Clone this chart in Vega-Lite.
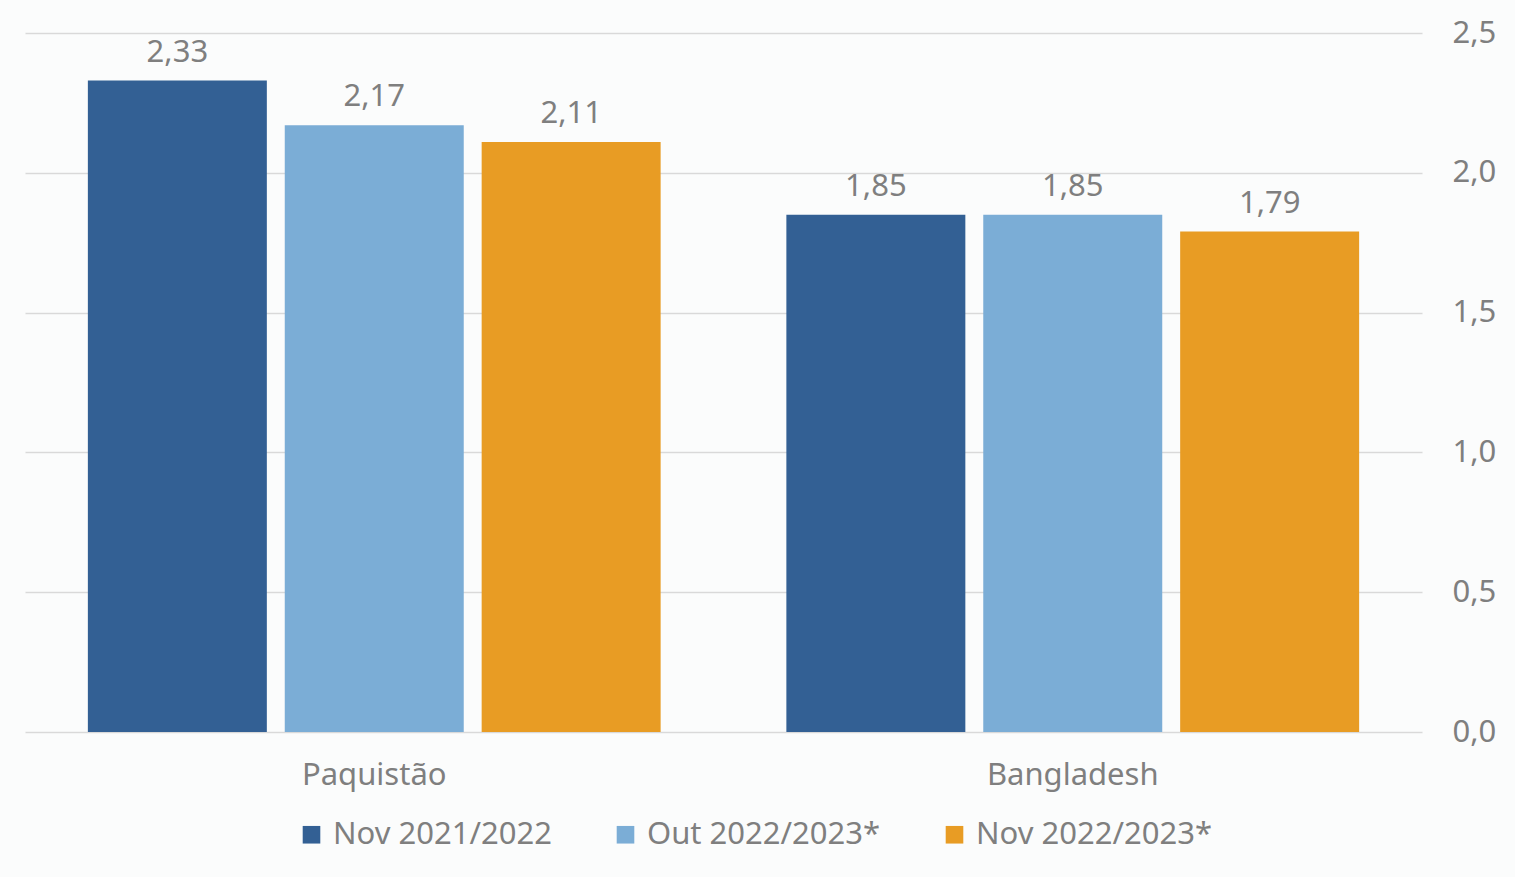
{
  "$schema": "https://vega.github.io/schema/vega-lite/v6.json",
  "autosize": "none",
  "width": 1397,
  "height": 699,
  "padding": {"left": 25, "top": 33, "right": 93, "bottom": 145},
  "background": "#fbfcfc",
  "config": {
    "locale": {"number": {"decimal": ",", "thousands": ".", "grouping": [3], "currency": ["R$", ""]}},
    "font": "Noto Sans",
    "view": {"stroke": null},
    "axis": {"labelColor": "#7f7f7f", "labelFontSize": 31, "labelFont": "Noto Sans"},
    "legend": {"labelColor": "#7f7f7f", "labelFontSize": 31, "labelLimit": 0}
  },
  "data": {
    "values": [
      {"pais": "Paquistão", "safra": "Nov 2021/2022", "valor": 2.33},
      {"pais": "Paquistão", "safra": "Out 2022/2023*", "valor": 2.17},
      {"pais": "Paquistão", "safra": "Nov 2022/2023*", "valor": 2.11},
      {"pais": "Bangladesh", "safra": "Nov 2021/2022", "valor": 1.85},
      {"pais": "Bangladesh", "safra": "Out 2022/2023*", "valor": 1.85},
      {"pais": "Bangladesh", "safra": "Nov 2022/2023*", "valor": 1.79}
    ]
  },
  "encoding": {
    "x": {
      "field": "pais",
      "type": "nominal",
      "sort": ["Paquistão", "Bangladesh"],
      "title": null,
      "scale": {"paddingInner": 0.18, "paddingOuter": 0.09},
      "axis": {"domain": false, "ticks": false, "labelAngle": 0, "labelPadding": 28}
    },
    "xOffset": {
      "field": "safra",
      "type": "nominal",
      "sort": ["Nov 2021/2022", "Out 2022/2023*", "Nov 2022/2023*"],
      "scale": {"paddingInner": 0.091, "paddingOuter": 0}
    },
    "y": {
      "field": "valor",
      "type": "quantitative",
      "title": null,
      "scale": {"domain": [0, 2.5]},
      "axis": {
        "orient": "right",
        "values": [0, 0.5, 1, 1.5, 2, 2.5],
        "format": ".1f",
        "domain": false,
        "ticks": false,
        "gridColor": "#d9d9d9",
        "gridWidth": 1.5,
        "labelPadding": 30
      }
    }
  },
  "layer": [
    {
      "mark": {"type": "bar"},
      "encoding": {
        "color": {
          "field": "safra",
          "type": "nominal",
          "sort": ["Nov 2021/2022", "Out 2022/2023*", "Nov 2022/2023*"],
          "scale": {
            "domain": ["Nov 2021/2022", "Out 2022/2023*", "Nov 2022/2023*"],
            "range": ["#336094", "#7badd6", "#e89c24"]
          },
          "legend": {
            "title": null,
            "orient": "none",
            "direction": "horizontal",
            "legendX": 271,
            "legendY": 786,
            "symbolType": "square",
            "symbolSize": 310,
            "symbolStrokeWidth": 0,
            "labelOffset": 6,
            "columnPadding": 58
          }
        }
      }
    },
    {
      "mark": {"type": "text", "baseline": "alphabetic", "dy": -19, "fontSize": 31, "color": "#7f7f7f"},
      "encoding": {
        "text": {"field": "valor", "type": "quantitative", "format": ".2f"}
      }
    }
  ]
}
